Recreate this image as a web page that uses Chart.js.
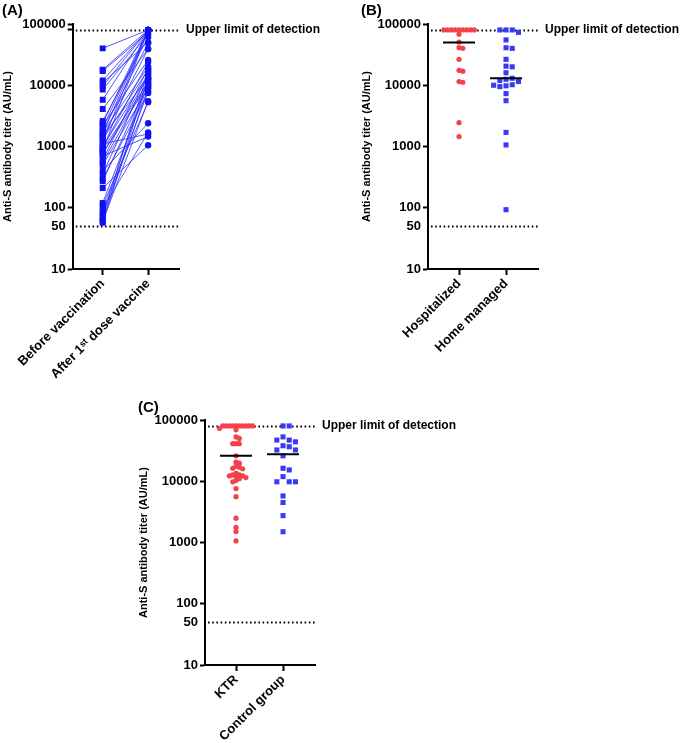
<!DOCTYPE html>
<html><head><meta charset="utf-8">
<script src="https://cdn.jsdelivr.net/npm/chart.js@4.4.1/dist/chart.umd.min.js"></script>
<style>
html,body{margin:0;padding:0;background:#fff;width:683px;height:743px;overflow:hidden;position:relative}
canvas{position:absolute}
</style></head><body>
<canvas id="cA" width="340" height="400" style="left:0px;top:0px"></canvas>
<canvas id="cB" width="343" height="400" style="left:340px;top:0px"></canvas>
<canvas id="cC" width="400" height="353" style="left:100px;top:390px"></canvas>
<script>
// ---------- data ----------
const yTickValues = [10, 50, 100, 1000, 10000, 100000];
const upperLimit = 80000;
const lowerLimit = 50;
const yTitle = 'Anti-S antibody titer (AU/mL)';
const upperLabel = 'Upper limit of detection';

const catsA = ['Before vaccination', 'After 1\u02E2\u1D57 dose vaccine'];
const beforeA = [40000, 18000, 17000, 12000, 11000, 9700, 8500, 5800, 4100, 2600, 2400, 2200, 2000, 1800, 1700, 1600, 1500, 1400, 1300, 1200, 1100, 1000, 950, 900, 850, 800, 750, 700, 600, 550, 500, 400, 350, 300, 270, 210, 120, 110, 95, 85, 78, 70, 65, 60, 57];
const afterA = [80000, 80000, 74000, 80000, 50000, 80000, 68000, 80000, 39000, 61000, 80000, 26000, 80000, 49000, 20000, 80000, 13000, 39000, 18000, 80000, 1600, 15000, 24000, 11000, 80000, 10000, 14000, 1450, 19000, 12000, 9000, 2400, 16000, 7500, 11000, 1050, 10000, 5300, 1700, 12700, 8000, 17000, 9000, 5500, 13000];

const catsB = ['Hospitalized', 'Home managed'];
const hospB = [80000, 80000, 80000, 80000, 80000, 80000, 80000, 80000, 80000, 68000, 50800, 41000, 40000, 26500, 17500, 17000, 11500, 11200, 2450, 1450];
const homeB = [80000, 80000, 80000, 73000, 55000, 41000, 40000, 26500, 20500, 20000, 16000, 13000, 12500, 12000, 11500, 10200, 10000, 9800, 9500, 7300, 5600, 1700, 1060, 93];
const mediansB = [50000, 13000];

const catsC = ['KTR', 'Control group'];
const ktrC = [80000, 80000, 80000, 80000, 80000, 80000, 80000, 80000, 80000, 80000, 73000, 69000, 53000, 50000, 41000, 41000, 41000, 26000, 20500, 19700, 17500, 17000, 16300, 16000, 13500, 12700, 12700, 12200, 12200, 11900, 11500, 11000, 10300, 9800, 7600, 5600, 2500, 1760, 1510, 1060];
const controlC = [80000, 80000, 53000, 47000, 47000, 44000, 38000, 36600, 32400, 32400, 26000, 16300, 15300, 11900, 9800, 9800, 9800, 5750, 4500, 2750, 1500];
const mediansC = [26000, 27500];

// ---------- styles ----------
const FONT = 'Arial, "Liberation Sans", Helvetica, sans-serif';
const BLUE_A = '#1010f2';
const LINE_A = 'rgba(45,45,255,0.8)';
const RED = '#f2424a';
const BLUE = '#3a3af2';
const X_MIN = 0.34, X_MAX = 2.68;

function swarm(values, spacing, pxPerX, pxPerDecade) {
  const placed = [];
  const offs = new Array(values.length).fill(0);
  const idx = values.map((v, i) => i).sort((a, b) => values[b] - values[a]);
  for (const i of idx) {
    const py = Math.log10(values[i]) * pxPerDecade;
    for (let k = 0; k < 60; k++) {
      const off = k === 0 ? 0 : (k % 2 ? Math.ceil(k / 2) : -k / 2) * spacing;
      if (placed.every(p => Math.hypot(p.x - off, p.y - py) >= spacing * 0.999)) {
        placed.push({x: off, y: py});
        offs[i] = off / pxPerX;
        break;
      }
    }
  }
  return offs;
}

function makePanel(id, g, cats, datasets, medians) {
  const cv = document.getElementById(id);
  const W = cv.width, H = cv.height;
  const tickFont = {family: FONT, size: 13, weight: 'bold'};
  const yTicks = g.markUpper ? yTickValues.concat([upperLimit]) : yTickValues;
  const extras = {
    id: 'extras',
    beforeDatasetsDraw(chart) {
      const ctx = chart.ctx, a = chart.chartArea, y = chart.scales.y;
      ctx.save();
      ctx.strokeStyle = '#000';
      ctx.lineWidth = 1.8;
      ctx.setLineDash([1.6, 2.6]);
      [upperLimit, lowerLimit].forEach(v => {
        const py = Math.round(y.getPixelForValue(v)) + 0.5;
        ctx.beginPath(); ctx.moveTo(a.left + 3, py); ctx.lineTo(a.right, py); ctx.stroke();
      });
      ctx.restore();
    },
    afterDraw(chart) {
      const ctx = chart.ctx, a = chart.chartArea, x = chart.scales.x, y = chart.scales.y;
      ctx.save();
      if (medians) {
        ctx.strokeStyle = '#000'; ctx.lineWidth = 2;
        medians.forEach((m, i) => {
          const cx = x.getPixelForValue(i + 1), py = y.getPixelForValue(m);
          ctx.beginPath(); ctx.moveTo(cx - 16, py); ctx.lineTo(cx + 16, py); ctx.stroke();
        });
      }
      ctx.fillStyle = '#000';
      ctx.textBaseline = 'middle';
      ctx.textAlign = 'left';
      ctx.font = 'bold 12px ' + FONT;
      ctx.fillText(upperLabel, a.right + 7, y.getPixelForValue(upperLimit));
      ctx.font = 'bold 15px ' + FONT;
      ctx.fillText(g.label, g.labelX, g.labelY);
      ctx.translate(g.titleX, (a.top + a.bottom) / 2);
      ctx.rotate(-Math.PI / 2);
      ctx.textAlign = 'center';
      ctx.font = 'bold 11px ' + FONT;
      ctx.fillText(yTitle, 0, 0);
      ctx.restore();
    }
  };
  return new Chart(cv, {
    type: 'scatter',
    data: {datasets},
    plugins: [extras],
    options: {
      responsive: false, animation: false, devicePixelRatio: 1,
      layout: {padding: {left: 0, top: g.top, right: W - g.right, bottom: 0}},
      plugins: {legend: {display: false}, tooltip: {enabled: false}},
      scales: {
        x: {
          type: 'linear', min: X_MIN, max: X_MAX,
          afterBuildTicks: s => { s.ticks = [{value: 1}, {value: 2}]; },
          afterFit: s => { s.height = H - g.bottom; },
          ticks: {callback: v => cats[v - 1], minRotation: 45, maxRotation: 45, autoSkip: false, color: '#000', font: tickFont, padding: 1},
          grid: {drawOnChartArea: false, tickLength: 6, tickColor: '#000', tickWidth: 2},
          border: {color: '#000', width: 2}
        },
        y: {
          type: 'logarithmic', min: 10, max: 100000,
          afterBuildTicks: s => { s.ticks = yTicks.map(v => ({value: v})); },
          afterFit: s => { s.width = g.left; },
          ticks: {callback: v => (yTickValues.includes(v) ? String(v) : ''), autoSkip: false, color: '#000', font: tickFont, padding: 2},
          grid: {drawOnChartArea: false, tickLength: 5, tickWidth: 2,
            tickColor: c => (c.tick && c.tick.value === lowerLimit) ? 'rgba(0,0,0,0)' : '#000'},
          border: {color: '#000', width: 2}
        }
      }
    }
  });
}

const PX_PER_X = 110 / (X_MAX - X_MIN);
const PX_PER_DEC = 61.3;

// ---------- Panel A ----------
(function () {
  const ds = [];
  ds.push({data: beforeA.map(v => ({x: 1, y: v})), pointStyle: 'rect', pointRadius: 4.2, backgroundColor: BLUE_A, borderWidth: 0});
  ds.push({data: afterA.map(v => ({x: 2, y: v})), pointStyle: 'circle', pointRadius: 3.2, backgroundColor: BLUE_A, borderWidth: 0});
  beforeA.forEach((b, i) => {
    ds.push({data: [{x: 1, y: b}, {x: 2, y: afterA[i]}], showLine: true, pointRadius: 0, borderColor: LINE_A, borderWidth: 1});
  });
  makePanel('cA', {left: 69, top: 24, right: 179, bottom: 269, label: '(A)', labelX: 2, labelY: 11, titleX: 8, markUpper: true}, catsA, ds, null);
})();

// ---------- Panel B ----------
(function () {
  const oh = swarm(hospB, 3.8, PX_PER_X, PX_PER_DEC);
  const om = swarm(homeB, 6.2, PX_PER_X, PX_PER_DEC);
  const ds = [
    {data: hospB.map((v, i) => ({x: 1 + oh[i], y: v})), pointStyle: 'circle', pointRadius: 2.6, backgroundColor: RED, borderWidth: 0},
    {data: homeB.map((v, i) => ({x: 2 + om[i], y: v})), pointStyle: 'rect', pointRadius: 3.6, backgroundColor: BLUE, borderWidth: 0}
  ];
  makePanel('cB', {left: 88, top: 24, right: 198, bottom: 269, label: '(B)', labelX: 21, labelY: 11, titleX: 27}, catsB, ds, mediansB);
})();

// ---------- Panel C ----------
(function () {
  const ok = swarm(ktrC, 3.3, PX_PER_X, 61.25);
  const oc = swarm(controlC, 6.2, PX_PER_X, 61.25);
  const ds = [
    {data: ktrC.map((v, i) => ({x: 1 + ok[i], y: v})), pointStyle: 'circle', pointRadius: 2.6, backgroundColor: RED, borderWidth: 0},
    {data: controlC.map((v, i) => ({x: 2 + oc[i], y: v})), pointStyle: 'rect', pointRadius: 3.6, backgroundColor: BLUE, borderWidth: 0}
  ];
  makePanel('cC', {left: 105, top: 30, right: 215, bottom: 275, label: '(C)', labelX: 38, labelY: 18, titleX: 44}, catsC, ds, mediansC);
})();
</script>
</body></html>
